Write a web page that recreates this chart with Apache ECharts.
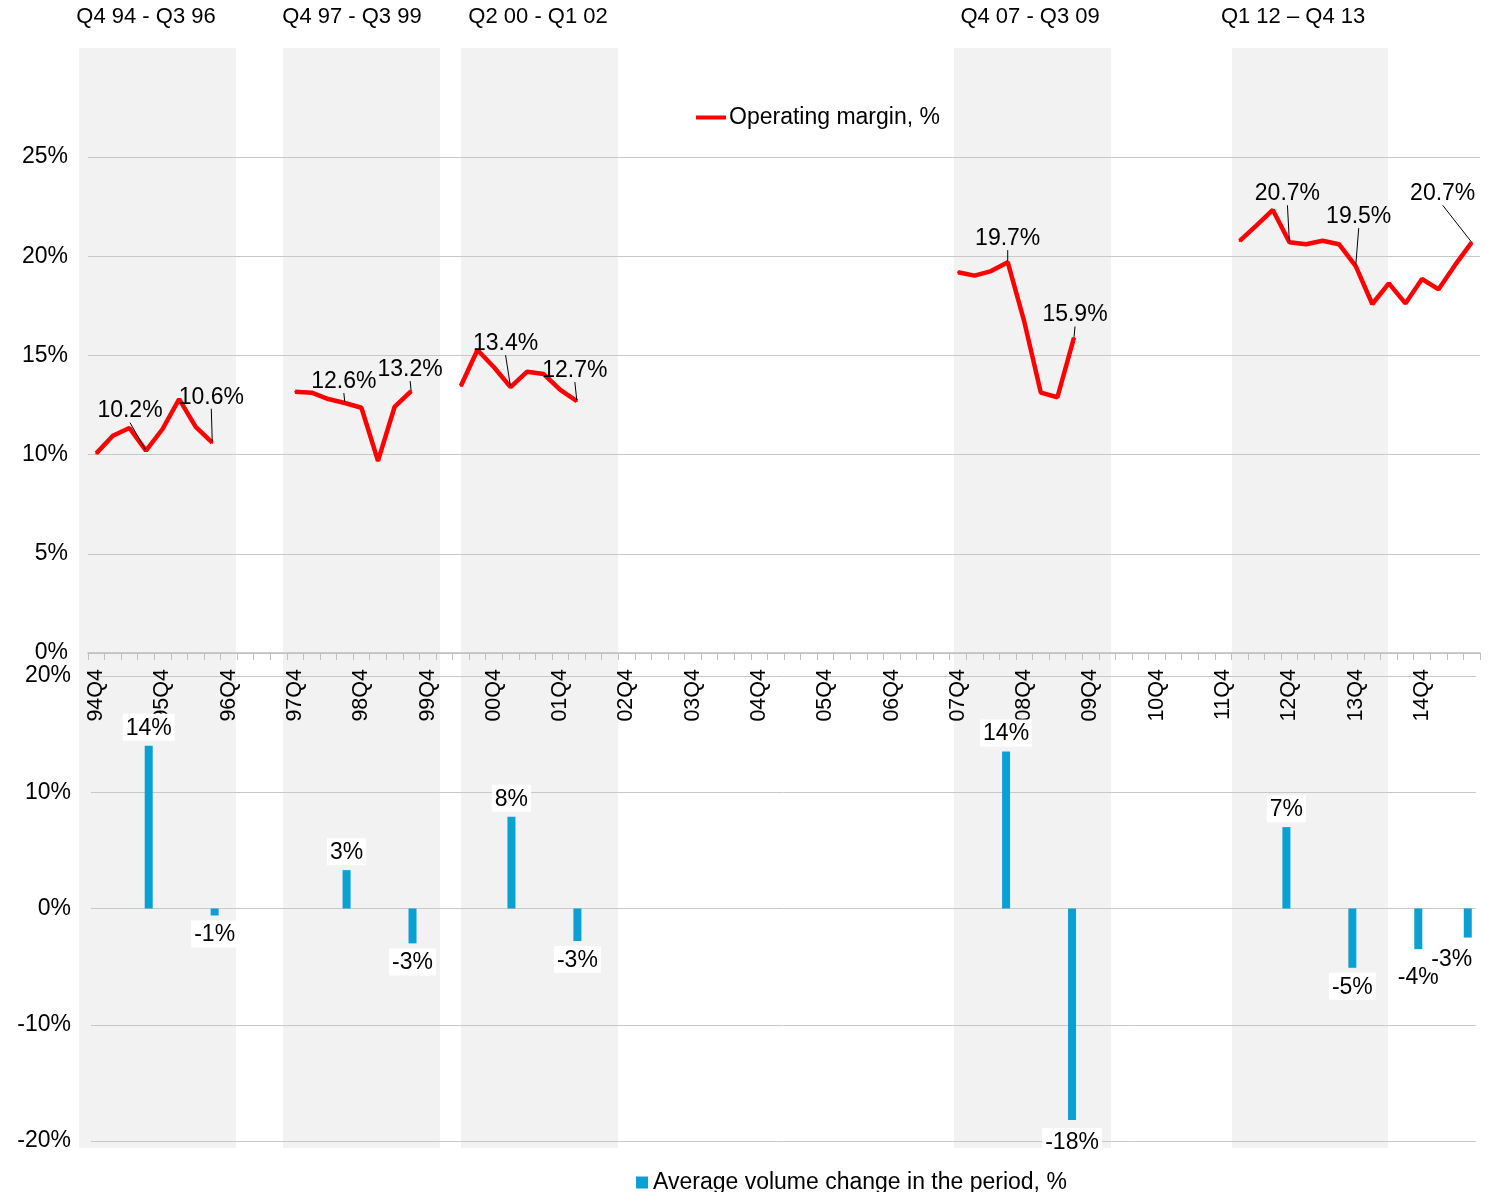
<!DOCTYPE html>
<html>
<head>
<meta charset="utf-8">
<script src="https://cdn.jsdelivr.net/npm/echarts@6.0.0/dist/echarts.min.js"></script>
<style>
  html, body { margin: 0; padding: 0; background: #fff; }
  #chart { width: 1497px; height: 1192px; }
</style>
</head>
<body>
<div id="chart"></div>
<script>
// quarters 94Q4 .. 15Q3
var years = ['94','95','96','97','98','99','00','01','02','03','04','05','06','07','08','09','10','11','12','13','14','15'];
var quarters = ['94Q4'];
for (var y = 1; y < years.length; y++) {
    var last = (y === years.length - 1) ? 3 : 4;
    for (var q = 1; q <= last; q++) quarters.push(years[y] + 'Q' + q);
}

// operating margin, % (gaps outside the periods)
var margin = [
    10.06, 10.95, 11.34, 10.2, 11.29, 12.8, 11.4, 10.6,
    null, null, null, null,
    13.17, 13.12, 12.8, 12.6, 12.36, 9.68, 12.4, 13.2,
    null, null,
    13.46, 15.27, 14.4, 13.4, 14.18, 14.06, 13.26, 12.7,
    null, null, null, null, null, null, null, null, null, null, null,
    null, null, null, null, null, null, null, null, null, null, null,
    19.19, 19.02, 19.25, 19.7, 16.7, 13.12, 12.89, 15.9,
    null, null, null, null, null, null, null, null, null,
    20.77, 21.54, 22.33, 20.7, 20.6, 20.78, 20.6, 19.5,
    17.59, 18.63, 17.62, 18.85, 18.33, 19.56, 20.7
];
var marginLabelIdx = [3, 7, 15, 19, 25, 29, 55, 59, 72, 76, 83];

// average volume change in the period, %
var volumeIdx = [3, 7, 15, 19, 25, 29, 55, 59, 72, 76, 80, 83];
var volume    = [14.0, -0.6, 3.3, -3.0, 7.9, -2.8, 13.5, -18.2, 7.0, -5.1, -3.5, -2.5];

// shaded periods (in quarter index units)
var bandNames    = ['Q4 94 - Q3 96', 'Q4 97 - Q3 99', 'Q2 00 - Q1 02', 'Q4 07 - Q3 09', 'Q1 12 \u2013 Q4 13'];
var bandStart    = [-1.04, 11.27, 22.01, 51.76, 68.54];
var bandEnd      = [8.43, 20.74, 31.49, 61.24, 77.95];
var bandLabelPos = [3.0, 15.43, 26.66, 56.35, 72.22];

var FONT = 'Liberation Sans, Arial, sans-serif';

// label nudges
var lineLabelShift = {
    3: [-16, -22], 7: [-1, -28], 15: [-1, -4], 19: [-1, -4], 25: [-5, -26], 29: [-2, -13],
    55: [0, -6], 59: [1, -5], 72: [-2, -31], 76: [3, -32], 83: [-29, -31]
};
var barLabelShift = { 59: [0, 3], 80: [0, 9], 83: [-16, 3] };

var marginData = margin.map(function (v, i) {
    if (marginLabelIdx.indexOf(i) >= 0) return { value: v, label: { show: true } };
    return v;
});

var volumeData = quarters.map(function () { return null; });
volumeIdx.forEach(function (idx, k) {
    var v = volume[k];
    volumeData[idx] = {
        value: v,
        label: { position: v >= 0 ? 'top' : 'bottom', offset: barLabelShift[idx] || [0, 0] }
    };
});

var bandData = bandStart.map(function (s, i) { return [s, bandEnd[i], bandLabelPos[i]]; });

var chart = echarts.init(document.getElementById('chart'));
var option = {
    animation: false,
    backgroundColor: '#fff',
    textStyle: { fontFamily: FONT, color: '#000' },
    legend: [{
        data: ['Operating margin, %'],
        left: 691, top: 101,
        icon: 'rect', itemWidth: 30, itemHeight: 4, itemGap: 10,
        textStyle: { fontSize: 23, color: '#000', fontFamily: FONT, padding: [0, 0, 0, -2] }
    }, {
        data: ['Average volume change in the period, %'],
        left: 631, top: 1166,
        icon: 'rect', itemWidth: 12, itemHeight: 12,
        textStyle: { fontSize: 23, color: '#000', fontFamily: FONT }
    }],
    grid: [
        { left: 88, right: 17, top: 157, height: 496, containLabel: false, outerBoundsMode: 'none' },
        { left: 91, right: 21, top: 676, height: 465, containLabel: false, outerBoundsMode: 'none' },
        { left: 88, right: 17, top: 48, bottom: 44, containLabel: false, outerBoundsMode: 'none' }
    ],
    xAxis: [{
        type: 'category', gridIndex: 0, data: quarters, boundaryGap: true,
        axisLine: { show: true, lineStyle: { color: '#bfbfbf', width: 1.5 } },
        axisTick: { show: true, interval: 0, length: 7, lineStyle: { color: '#bfbfbf' } },
        axisLabel: { interval: 3, rotate: 90, margin: 16, fontSize: 21.5, color: '#000', fontFamily: FONT },
        splitLine: { show: false }
    }, {
        type: 'category', gridIndex: 1, data: quarters, boundaryGap: true, show: false
    }, {
        type: 'value', gridIndex: 2, min: -0.5, max: quarters.length - 0.5, show: false
    }],
    yAxis: [{
        type: 'value', gridIndex: 0, min: 0, max: 25, interval: 5,
        axisLine: { show: false }, axisTick: { show: false },
        axisLabel: { formatter: '{value}%', fontSize: 23, color: '#000', margin: 20, fontFamily: FONT },
        splitLine: { lineStyle: { color: '#c8c8c8', width: 1 } }
    }, {
        type: 'value', gridIndex: 1, min: -20, max: 20, interval: 10,
        axisLine: { show: false }, axisTick: { show: false },
        axisLabel: { formatter: '{value}%', fontSize: 23, color: '#000', margin: 20, fontFamily: FONT },
        splitLine: { lineStyle: { color: '#c8c8c8', width: 1 } }
    }, {
        type: 'value', gridIndex: 2, min: 0, max: 1, show: false
    }],
    series: [{
        type: 'custom',
        xAxisIndex: 2, yAxisIndex: 2,
        z: -1,
        silent: true,
        encode: { x: [0, 1] },
        data: bandData,
        renderItem: function (params, api) {
            var tl = api.coord([api.value(0), 1]);
            var br = api.coord([api.value(1), 0]);
            var lx = api.coord([api.value(2), 1])[0];
            return {
                type: 'group',
                children: [{
                    type: 'rect',
                    shape: { x: tl[0], y: tl[1], width: br[0] - tl[0], height: br[1] - tl[1] },
                    style: { fill: '#f2f2f2' }
                }, {
                    type: 'text',
                    x: lx, y: tl[1] - 31,
                    style: {
                        text: bandNames[params.dataIndex],
                        fill: '#000', fontSize: 22, fontFamily: FONT,
                        align: 'center', verticalAlign: 'middle'
                    }
                }]
            };
        }
    }, {
        name: 'Operating margin, %',
        type: 'line',
        xAxisIndex: 0, yAxisIndex: 0,
        data: marginData,
        connectNulls: false,
        symbol: 'circle', symbolSize: 2,
        showSymbol: true, showAllSymbol: true,
        lineStyle: { color: '#ff0000', width: 4.5 },
        itemStyle: { color: '#ff0000' },
        label: {
            show: false, position: 'top', fontSize: 23, color: '#000', fontFamily: FONT,
            formatter: function (p) { return p.value.toFixed(1) + '%'; }
        },
        labelLine: { show: true, lineStyle: { color: '#000', width: 1 } },
        labelLayout: function (p) {
            var s = lineLabelShift[p.dataIndex] || [0, 0];
            return { dx: s[0], dy: s[1] };
        }
    }, {
        name: 'Average volume change in the period, %',
        type: 'bar',
        xAxisIndex: 1, yAxisIndex: 1,
        data: volumeData,
        barWidth: 8,
        itemStyle: { color: '#0aa0d2' },
        label: {
            show: true, fontSize: 23, color: '#000', fontFamily: FONT,
            backgroundColor: '#fff', padding: [3, 3, 1, 3], distance: 5,
            formatter: function (p) { return p.value.toFixed(0) + '%'; }
        }
    }]
};
chart.setOption(option);
window.onresize = function () { chart.resize(); };
</script>
</body>
</html>
